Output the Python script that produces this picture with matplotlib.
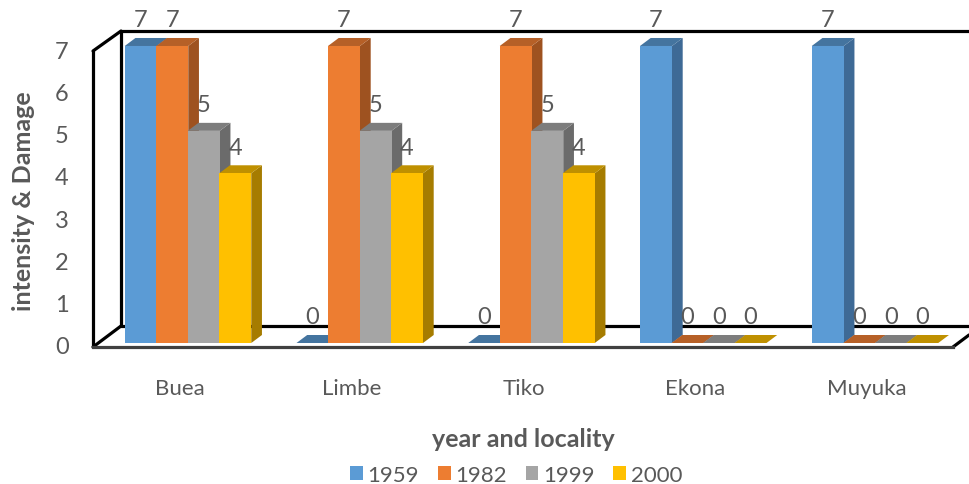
import matplotlib
matplotlib.use("Agg")
import matplotlib.pyplot as plt
from matplotlib.patches import Polygon

plt.rcParams["font.family"] = ["Lato", "DejaVu Sans"]

localities = ["Buea", "Limbe", "Tiko", "Ekona", "Muyuka"]
years = ["1959", "1982", "1999", "2000"]
v1959 = [7, 0, 0, 7, 7]
v1982 = [7, 7, 7, 0, 0]
v1999 = [5, 5, 5, 0, 0]
v2000 = [4, 4, 4, 0, 0]
series = [v1959, v1982, v1999, v2000]

front_cols = ["#5B9BD5", "#ED7D31", "#A5A5A5", "#FFC000"]
top_cols = ["#44749F", "#B66027", "#7D7D7D", "#BF9000"]
side_cols = ["#3E6A96", "#9E5220", "#6B6B6B", "#A67C00"]

W, H = 969, 485
px_x = 171.75  # pixels per category
px_y = 42.43   # pixels per unit of intensity
x0_px, y0_px = 188.0, 344.0

fig = plt.figure(figsize=(W / 100, H / 100), dpi=100)
ax = fig.add_axes([0, 0, 1, 1])
ax.set_xlim(-x0_px / px_x, (W - x0_px) / px_x)
ax.set_ylim(-(H - y0_px) / px_y, y0_px / px_y)
ax.axis("off")

bar_step = 31.5 / px_x
bar_w = 32.0 / px_x  # a touch wider than the step so no floor line shows between bars
dx = 10.7 / px_x  # depth of the fake 3d
dy = 8.0 / px_y
grey = "#595959"

# wall and floor frame
left_f = -95 / px_x
left_b = -67 / px_x
right_f = 765 / px_x
right_b = 781 / px_x
floor_f = -4 / px_y
floor_b = 17 / px_y
top_b = 312 / px_y
top_f = 292 / px_y
frame = dict(color="black", lw=2.3, solid_capstyle="round", zorder=1)
ax.plot([left_b, right_b], [top_b, top_b], **frame)
ax.plot([left_b, left_b], [floor_b, top_b], **frame)
ax.plot([left_f, left_b], [top_f, top_b], **frame)
ax.plot([left_f, left_f], [floor_f, top_f], **frame)
ax.plot([left_f, left_b], [floor_f, floor_b], **frame)
ax.plot([left_b, right_b], [floor_b, floor_b], **frame)
ax.plot([right_f, right_b], [floor_f, floor_f + 12 / px_y], **frame)
ax.plot([left_f, right_f], [floor_f, floor_f], color="#404040", lw=2.3, zorder=1)

handles = []
for s, vals in enumerate(series):
    xs = [i + (s - 1.5) * bar_step for i in range(len(vals))]
    bars = ax.bar(xs, vals, width=bar_w, color=front_cols[s], zorder=3 + s * 0.1 + 0.05, label=years[s])
    handles.append(bars)
    for x, v in zip(xs, vals):
        l, r = x - bar_w / 2, x + bar_w / 2
        ax.add_patch(Polygon([(r, 0), (r + dx, dy), (r + dx, v + dy), (r, v)],
                             facecolor=side_cols[s], edgecolor="none", zorder=3 + s * 0.1))
        ax.add_patch(Polygon([(l, v), (l + dx, v + dy), (r + dx, v + dy), (r, v)],
                             facecolor=top_cols[s], edgecolor="none", zorder=3 + s * 0.1))
        ax.text(x, v + 26 / px_y, str(v), ha="center", va="center", fontsize=17, color=grey, zorder=6)

# value axis labels sit on the front wall
for v in range(8):
    ax.text(-126 / px_x, v * (296 / 7 / px_y) - 4 / px_y, str(v), ha="center", va="center",
            fontsize=17, color=grey)

for i, name in enumerate(localities):
    ax.text(i - 8 / px_x, -45 / px_y, name, ha="center", va="center", fontsize=16, color=grey)

ax.text(335 / px_x, -96 / px_y, "year and locality", ha="center", va="center",
        fontsize=18, fontweight="bold", color=grey)
ax.text(-164 / px_x, 143 / px_y, "intensity & Damage", ha="center", va="center", rotation=90,
        fontsize=18, fontweight="bold", color=grey)

ax.legend(handles, years, loc="center", bbox_to_anchor=(516 / W, 1 - 476 / H), ncol=4, frameon=False,
          fontsize=16, labelcolor=grey, handlelength=0.58, handleheight=0.58, handletextpad=0.2,
          columnspacing=0.85, borderpad=0, borderaxespad=0)

fig.savefig("out.png", dpi=100)
